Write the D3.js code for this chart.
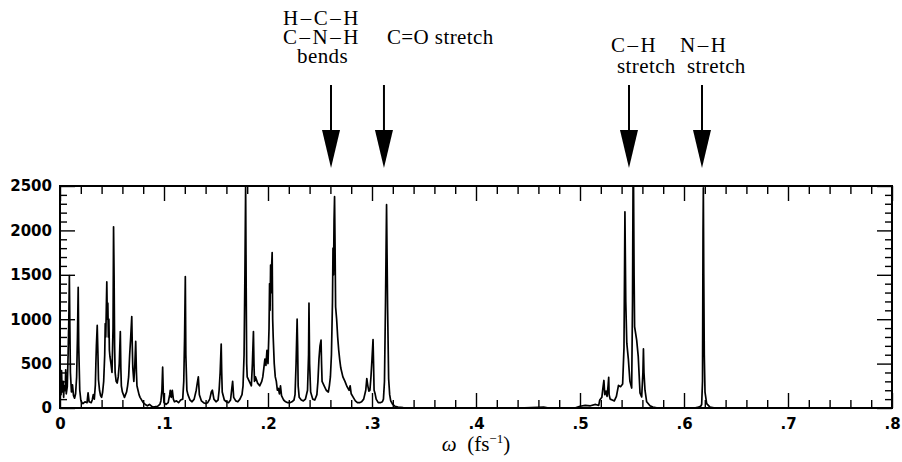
<!DOCTYPE html>
<html>
<head>
<meta charset="utf-8">
<script src="https://cdn.jsdelivr.net/npm/d3@7"></script>
<style>
  body { margin: 0; background: #fff; }
  svg { display: block; }
  .tick text { font-family: "DejaVu Sans", sans-serif; font-weight: bold; font-size: 15px; fill: #000; }
  .tick line { stroke: #000; stroke-width: 1.4; }
  .note { font-family: "Liberation Serif", "Times New Roman", serif; font-size: 21px; fill: #000; }
</style>
</head>
<body>
<div id="chart"></div>
<script>
// spectrum: [omega (fs^-1), intensity]
var spectrum = [
  [0.000, 350], [0.001, 150], [0.0015, 420], [0.002, 180], [0.003, 300], [0.0035, 120],
  [0.004, 250], [0.005, 200], [0.0055, 430], [0.006, 160], [0.007, 240], [0.0078, 600],
  [0.0085, 1000], [0.009, 1490], [0.0095, 900], [0.010, 400], [0.011, 180], [0.012, 260],
  [0.013, 140], [0.014, 110], [0.015, 160], [0.016, 350], [0.0168, 800], [0.0175, 1360],
  [0.018, 700], [0.019, 200], [0.020, 90], [0.021, 60], [0.022, 50], [0.024, 70],
  [0.026, 60], [0.027, 170], [0.028, 70], [0.030, 60], [0.031, 90], [0.032, 150],
  [0.033, 100], [0.034, 260], [0.0345, 500], [0.035, 700], [0.0358, 930], [0.0365, 600],
  [0.037, 320], [0.038, 200], [0.039, 140], [0.040, 120], [0.041, 180], [0.042, 300],
  [0.043, 600], [0.0435, 950], [0.044, 800], [0.0445, 1100], [0.045, 1420], [0.0455, 1000],
  [0.046, 1180], [0.0465, 800], [0.047, 1000], [0.0475, 650], [0.048, 580], [0.049, 500],
  [0.050, 400], [0.051, 900], [0.0515, 2040], [0.052, 1500], [0.0525, 700], [0.053, 400],
  [0.054, 300], [0.055, 280], [0.056, 350], [0.057, 500], [0.058, 860], [0.0585, 450],
  [0.059, 250], [0.060, 180], [0.061, 150], [0.062, 120], [0.063, 150], [0.064, 180],
  [0.065, 250], [0.066, 350], [0.067, 600], [0.068, 800], [0.069, 1030], [0.0695, 700],
  [0.070, 450], [0.071, 300], [0.072, 500], [0.0728, 750], [0.0735, 400], [0.074, 250],
  [0.075, 200], [0.076, 150], [0.077, 120], [0.078, 100], [0.079, 80], [0.080, 60],
  [0.082, 40], [0.084, 25], [0.086, 40], [0.088, 20], [0.090, 10], [0.092, 15],
  [0.094, 20], [0.096, 40], [0.097, 80], [0.098, 200], [0.0987, 460], [0.0993, 180],
  [0.100, 60], [0.102, 40], [0.104, 60], [0.1055, 150], [0.106, 200], [0.107, 120],
  [0.108, 200], [0.109, 100], [0.110, 70], [0.112, 80], [0.114, 60], [0.116, 90],
  [0.118, 100], [0.119, 300], [0.1198, 800], [0.1205, 1480], [0.121, 600], [0.122, 200],
  [0.123, 150], [0.125, 90], [0.127, 70], [0.129, 100], [0.131, 200], [0.132, 280],
  [0.133, 350], [0.134, 150], [0.136, 80], [0.138, 60], [0.140, 50], [0.142, 60],
  [0.144, 100], [0.1455, 180], [0.1465, 200], [0.148, 100], [0.150, 70], [0.152, 90],
  [0.153, 200], [0.154, 400], [0.155, 720], [0.1555, 400], [0.156, 180], [0.158, 90],
  [0.160, 70], [0.162, 60], [0.164, 90], [0.165, 200], [0.166, 300], [0.167, 120],
  [0.169, 80], [0.171, 70], [0.173, 100], [0.175, 150], [0.176, 250], [0.177, 600],
  [0.1778, 1500], [0.1785, 2500], [0.179, 1400], [0.1795, 500], [0.180, 350], [0.182, 300],
  [0.184, 250], [0.185, 500], [0.186, 860], [0.1865, 500], [0.187, 300], [0.188, 350],
  [0.190, 280], [0.192, 250], [0.194, 300], [0.195, 350], [0.196, 450], [0.197, 550],
  [0.198, 480], [0.199, 650], [0.200, 500], [0.201, 900], [0.2015, 1400], [0.202, 1100],
  [0.2025, 1610], [0.203, 1300], [0.2035, 1600], [0.204, 1750], [0.2045, 1000], [0.205, 800],
  [0.206, 500], [0.207, 350], [0.208, 300], [0.209, 200], [0.210, 220], [0.211, 160],
  [0.212, 250], [0.213, 140], [0.215, 90], [0.217, 70], [0.219, 60], [0.221, 60],
  [0.223, 70], [0.225, 90], [0.226, 150], [0.227, 500], [0.228, 1000], [0.2285, 700],
  [0.229, 250], [0.230, 120], [0.232, 90], [0.234, 80], [0.236, 100], [0.238, 200],
  [0.239, 600], [0.2394, 1180], [0.240, 500], [0.241, 180], [0.243, 100], [0.245, 90],
  [0.247, 150], [0.248, 300], [0.249, 550], [0.250, 700], [0.251, 765], [0.2515, 500],
  [0.252, 300], [0.254, 250], [0.256, 200], [0.258, 180], [0.259, 250], [0.260, 350],
  [0.261, 600], [0.262, 1200], [0.2625, 1800], [0.263, 1500], [0.2635, 2100], [0.264, 2380],
  [0.2645, 1800], [0.265, 1140], [0.266, 1000], [0.267, 800], [0.268, 650], [0.269, 540],
  [0.270, 450], [0.272, 350], [0.274, 300], [0.276, 240], [0.278, 200], [0.279, 250],
  [0.280, 160], [0.282, 120], [0.284, 80], [0.286, 60], [0.288, 60], [0.290, 70],
  [0.292, 100], [0.294, 200], [0.295, 330], [0.296, 250], [0.297, 190], [0.298, 200],
  [0.299, 350], [0.300, 550], [0.301, 770], [0.3015, 500], [0.302, 200], [0.303, 160],
  [0.304, 100], [0.306, 60], [0.308, 60], [0.310, 70], [0.311, 100], [0.312, 300],
  [0.313, 1200], [0.314, 2290], [0.3145, 1700], [0.315, 1130], [0.316, 330], [0.317, 150],
  [0.318, 80], [0.320, 40], [0.322, 20], [0.325, 10], [0.330, 5], [0.340, 0],
  [0.360, 3], [0.380, 0], [0.440, 0], [0.460, 8], [0.465, 10], [0.470, 0],
  [0.495, 0], [0.500, 20], [0.505, 30], [0.510, 25], [0.515, 40], [0.518, 30],
  [0.519, 90], [0.521, 120], [0.522, 220], [0.523, 310], [0.5238, 150], [0.525, 190],
  [0.526, 130], [0.527, 250], [0.5276, 345], [0.528, 150], [0.529, 100], [0.531, 90],
  [0.533, 80], [0.535, 130], [0.537, 255], [0.539, 240], [0.541, 270], [0.5423, 680],
  [0.5428, 1500], [0.5432, 2210], [0.544, 1200], [0.545, 730], [0.5465, 550], [0.548, 300],
  [0.5497, 225], [0.5505, 1200], [0.551, 2500], [0.5515, 2500], [0.552, 1500], [0.5525, 915],
  [0.5545, 765], [0.556, 580], [0.5577, 170], [0.5593, 125], [0.5605, 400], [0.561, 665],
  [0.5615, 400], [0.5625, 200], [0.5641, 70], [0.5673, 25], [0.570, 10], [0.575, 0],
  [0.610, 0], [0.614, 10], [0.616, 20], [0.617, 40], [0.6178, 300], [0.6183, 2000],
  [0.6186, 2480], [0.619, 1500], [0.6195, 600], [0.6202, 180], [0.6218, 50], [0.625, 10],
  [0.630, 0], [0.800, 0]
];

var xMajorTicks = [0, 0.1, 0.2, 0.3, 0.4, 0.5, 0.6, 0.7, 0.8];
var xTickLabels = ["0", ".1", ".2", ".3", ".4", ".5", ".6", ".7", ".8"];
var yMajorTicks = [0, 500, 1000, 1500, 2000, 2500];
var yTickLabels = ["0", "500", "1000", "1500", "2000", "2500"];

var arrowOmega = [0.2606, 0.3115, 0.5471, 0.6173];
var arrowLabels = [["H–C–H", "C–N–H", "bends"], ["C=O stretch"], ["C–H", "stretch"], ["N–H", "stretch"]];

(function(){

  var width = 902, height = 462;
  var margin = {top: 186, right: 10, bottom: 54, left: 60};
  var w = width - margin.left - margin.right;
  var h = height - margin.top - margin.bottom;

  var x = d3.scaleLinear().domain([0, 0.8]).range([0, w]);
  var y = d3.scaleLinear().domain([0, 2500]).range([h, 0]);

  var xMinor = d3.range(0, 41).filter(function(i) {return i % 5 !== 0;}).map(function(i) {return i * 0.02;});
  var yMinor = d3.range(0, 26).filter(function(i) {return i % 5 !== 0;}).map(function(i) {return i * 100;});

  var svg = d3.select('#chart')
    .append('svg')
    .attr('width', width)
    .attr('height', height);

  var g = svg.append('g')
    .attr('transform', 'translate(' + margin.left + ',' + margin.top + ')');

  svg.append('clipPath')
    .attr('id', 'plotclip')
    .append('rect')
    .attr('x', 0)
    .attr('y', 0)
    .attr('width', w)
    .attr('height', h);

  // ticks, all pointing inward
  function ticks(axis, values, size, fmt, pad) {
    return axis.tickValues(values).tickSize(-size).tickPadding(pad || 0)
      .tickFormat(fmt || function() {return '';});
  }

  g.append('g').attr('transform', 'translate(0,' + h + ')')
    .call(ticks(d3.axisBottom(x), xMajorTicks, 15, function(d, i) {return xTickLabels[i];}, 10));
  g.append('g').attr('transform', 'translate(0,' + h + ')')
    .call(ticks(d3.axisBottom(x), xMinor, 8));
  g.append('g')
    .call(ticks(d3.axisTop(x), xMajorTicks, 15));
  g.append('g')
    .call(ticks(d3.axisTop(x), xMinor, 8));

  g.append('g')
    .call(ticks(d3.axisLeft(y), yMajorTicks, 15, function(d, i) {return yTickLabels[i];}, 8));
  g.append('g')
    .call(ticks(d3.axisLeft(y), yMinor, 7));
  g.append('g').attr('transform', 'translate(' + w + ',0)')
    .call(ticks(d3.axisRight(y), yMajorTicks, 15));
  g.append('g').attr('transform', 'translate(' + w + ',0)')
    .call(ticks(d3.axisRight(y), yMinor, 7));

  g.selectAll('.domain').remove();

  var line = d3.line()
    .x(function(d) {return x(d[0]);})
    .y(function(d) {return y(d[1]);});

  g.append('path')
    .datum(spectrum)
    .attr('clip-path', 'url(#plotclip)')
    .attr('d', line)
    .attr('fill', 'none')
    .attr('stroke', '#000')
    .attr('stroke-width', 1.7)
    .attr('stroke-linejoin', 'round');

  g.append('rect')
    .attr('width', w)
    .attr('height', h)
    .attr('fill', 'none')
    .attr('stroke', '#000')
    .attr('stroke-width', 2);

  // x title, just below the .4 label
  var title = svg.append('text')
    .attr('class', 'note')
    .attr('x', 476)
    .attr('y', 451)
    .attr('text-anchor', 'middle');
  title.append('tspan').style('font-style', 'italic').text('ω');
  title.append('tspan').text('\u00a0\u00a0(fs');
  title.append('tspan').attr('dy', -8).style('font-size', '13px').text('−1');
  title.append('tspan').attr('dy', 8).text(')');

  // arrows
  var arrows = svg.append('g').selectAll('g')
    .data(arrowOmega)
    .enter()
    .append('g')
    .attr('transform', function(d) {return 'translate(' + (margin.left + x(d)) + ',0)';});

  arrows.append('line')
    .attr('y1', 85)
    .attr('y2', 135)
    .attr('stroke', '#000')
    .attr('stroke-width', 2);

  arrows.append('path')
    .attr('d', 'M-9,130L9,130L0,168Z')
    .attr('fill', '#000');

  // label offsets relative to each arrow
  var labelDx = [[-48, -48, -34], [3], [-18, -12], [-22, -15]];
  var labelY = [[25, 44, 63], [44], [52, 73], [52, 73]];

  arrows.each(function(d, i) {
    d3.select(this).selectAll('text')
      .data(arrowLabels[i])
      .enter()
      .append('text')
      .attr('class', 'note')
      .attr('x', function(t, j) {return labelDx[i][j];})
      .attr('y', function(t, j) {return labelY[i][j];})
      .style('letter-spacing', function(t) {return t.indexOf('–') >= 0 ? '2.5px' : '0.4px';})
      .text(function(t) {return t;});
  });

})();
</script>
</body>
</html>
